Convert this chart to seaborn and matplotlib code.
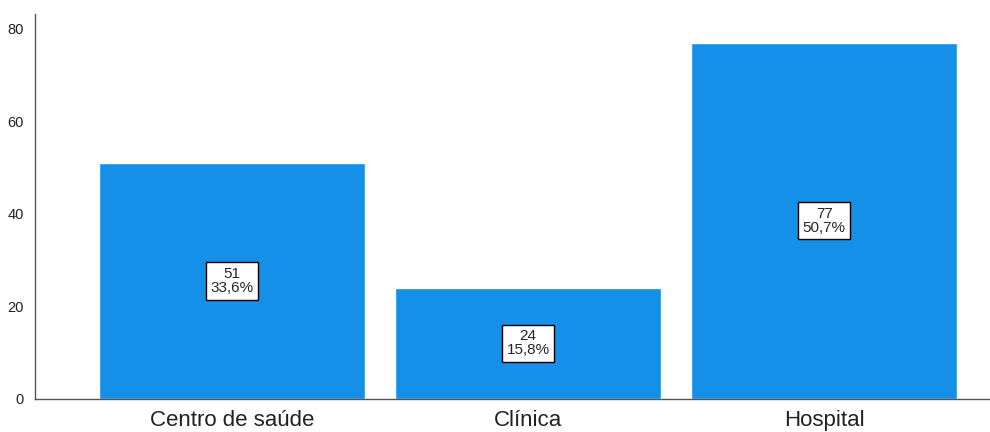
import matplotlib
matplotlib.use("Agg")
import matplotlib.pyplot as plt
import seaborn as sns
import pandas as pd

# data
categories = ["Centro de saúde", "Clínica", "Hospital"]
counts = [51, 24, 77]
percents = ["33,6%", "15,8%", "50,7%"]

df = pd.DataFrame({"local": categories, "n": counts})

sns.set_style("white")
plt.rcParams["font.family"] = ["Liberation Sans", "DejaVu Sans"]

fig = plt.figure(figsize=(9.9, 4.32), dpi=100)
ax = fig.add_axes([0.0354, 0.0764, 0.9646, 0.8912])

sns.barplot(data=df, x="local", y="n", color="#1490E8", saturation=1,
            width=0.9, ax=ax)

# count / percent boxes in the middle of each bar
for i, (c, p) in enumerate(zip(counts, percents)):
    ax.text(i, c / 2, f"{c}\n{p}", ha="center", va="center", fontsize=11,
            linespacing=1.0,
            bbox=dict(boxstyle="square,pad=0.3", fc="white", ec="black", lw=1))

ax.set_ylim(0, 83.2)
ax.set_xlim(-0.665, 2.56)
ax.set_yticks([0, 20, 40, 60, 80])
ax.set_xlabel("")
ax.set_ylabel("")
ax.tick_params(axis="y", labelsize=10.5, length=0, pad=8, colors="#222222")
ax.tick_params(axis="x", labelsize=16, length=0, pad=8, colors="#222222")
for side in ["top", "right"]:
    ax.spines[side].set_visible(False)
for side in ["left", "bottom"]:
    ax.spines[side].set_color("#555555")
    ax.spines[side].set_linewidth(1)

fig.savefig("out.png", dpi=100)
